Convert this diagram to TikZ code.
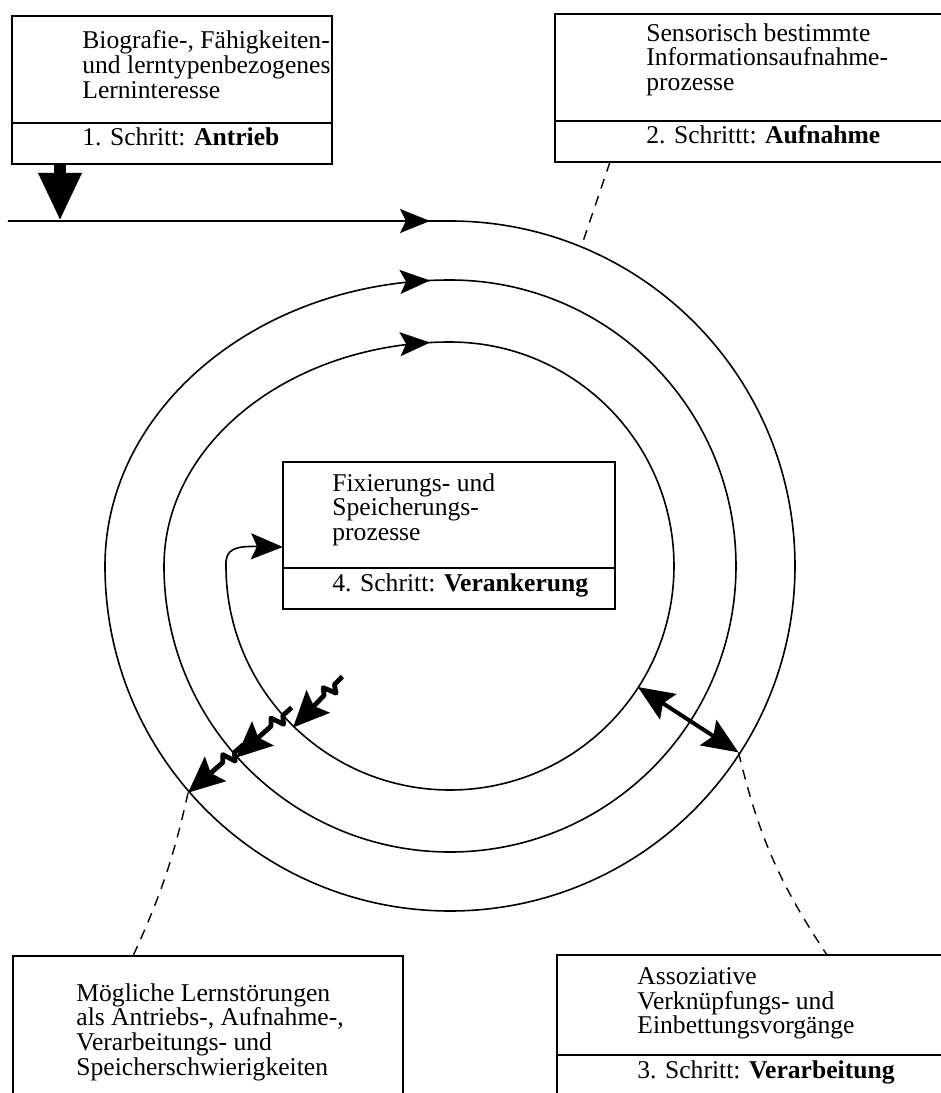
\documentclass[tikz,border=0pt]{standalone}
\usepackage{fontspec}
\setmainfont{Liberation Serif}
\usetikzlibrary{arrows.meta, calc, decorations.markings}
\tikzset{
  kasten/.style={
    draw,
    line width=1pt,
    anchor=north west,
    inner sep=0pt,
    outer sep=0pt,
  },
  kastentext/.style={
    font=\fontsize{12.8}{12.4}\selectfont,
    align=left,
    anchor=north west,
    inner sep=0pt,
  },
  spirale/.style={line width=0.8pt, line join=round},
  strich/.style={line width=0.7pt, dash pattern=on 5pt off 4pt},
  antrieb/.style={-{Triangle[length=24pt, width=20pt]}, line width=6pt},
  doppelpfeil/.style={{Stealth[length=18pt, width=15pt, inset=3pt]}-{Stealth[length=18pt, width=15pt, inset=3pt]}, line width=2pt},
  blitz/.style={
    -{Stealth[length=18pt, width=16pt, inset=3pt]},
    line width=2.4pt,
    line join=round,
  },
}
% box with description (top) and step label (bottom part)
\newcommand{\stufe}[7][]{%
  \node[kasten, #1,
    label={[kastentext, xshift=#4, yshift=#5]north west:{#6}},
    label={[kastentext, anchor=base west, xshift=#4, yshift=-11.5pt]south west:{#7}}] (#2) at #3 {};
  \draw[line width=1pt] (#2.south west) rectangle ([yshift=-20.5pt]#2.south east)%
}
\newcommand{\spitze}{\arrow{Stealth[length=15pt, width=12pt, inset=3pt]}}

\begin{document}
\begin{tikzpicture}[x=0.5pt, y=0.5pt]
\useasboundingbox (-450,-528) rectangle (491,565);

% Boxes: steps 1--4 and learning difficulties
\stufe[minimum width=160pt, minimum height=53.5pt]{b1}{(-438,549)}{35pt}{-7pt}
  {Biografie-, Fähigkeiten-\\und lerntypenbezogenes\\Lerninteresse}{1. Schritt: \textbf{Antrieb}};
\stufe[minimum width=210pt, minimum height=53.5pt]{b2}{(105,551)}{45.5pt}{-4.5pt}
  {Sensorisch bestimmte\\Informationsaufnahme-\\prozesse}{2. Schrittt: \textbf{Aufnahme}};
\stufe[minimum width=210pt, minimum height=50pt]{b3}{(107,-390)}{40pt}{-6pt}
  {Assoziative\\Verknüpfungs- und\\Einbettungsvorgänge}{3. Schritt: \textbf{Verarbeitung}};
\stufe[minimum width=166pt, minimum height=53pt]{b4}{(-167,103)}{24.5pt}{-5.5pt}
  {Fixierungs- und\\Speicherungs-\\prozesse}{4. Schritt: \textbf{Verankerung}};
\stufe[minimum width=195pt, minimum height=75pt]{b5}{(-437,-391)}{31.5pt}{-13.5pt}
  {Mögliche Lernstörungen\\als Antriebs-, Aufnahme-,\\Verarbeitungs- und\\Speicherschwierigkeiten}{};

% Spiral: outer loop -> inner loop -> step 4
\coordinate (einstieg) at (-442,344);
\draw[spirale, postaction={decorate}, decoration={markings,
    mark=at position 211pt with {\spitze},
    mark=at position -10pt with {\spitze}}]
  (einstieg) -- (0,344)
  arc[start angle=90, end angle=-180, radius=345]
  arc[start angle=180, end angle=90, x radius=345, y radius=286]
  coordinate (runde2);
\draw[spirale, postaction={decorate}, decoration={markings,
    mark=at position -10pt with {\spitze}}]
  (runde2) arc[start angle=90, end angle=-180, radius=286]
  arc[start angle=180, end angle=90, x radius=286, y radius=224]
  coordinate (runde3);
\draw[spirale, -{Stealth[length=16pt, width=13pt, inset=3pt]}]
  (runde3) arc[start angle=90, end angle=-180, radius=224]
  .. controls (-225,16) and (-215,19) .. ([yshift=10.5pt]b4.south west);

% Drive arrow from step 1
\coordinate (antriebsfuss) at ([xshift=24pt, yshift=-20.5pt]b1.south west);
\draw[antrieb] (antriebsfuss) -- (antriebsfuss |- einstieg);

% Lightning arrows (disturbances), each with a small kink
\foreach \w/\von/\nach [count=\i] in {226/155/226, 222/213/288, 221/274/347}
{
  \coordinate (blitz\i-a) at (\w:\von);
  \coordinate (blitz\i-b) at (\w:\nach);
  \draw[blitz] (blitz\i-a) -- ($(blitz\i-a)!0.16!(blitz\i-b)$)
    -- ($(blitz\i-a)!0.23!(blitz\i-b)!3.5pt!90:(blitz\i-b)$)
    -- ($(blitz\i-a)!0.30!(blitz\i-b)!3pt!-90:(blitz\i-b)$)
    -- ($(blitz\i-a)!0.37!(blitz\i-b)$) -- (blitz\i-b);
}

% Link between loops (step 3)
\coordinate (innen) at (-33:224);
\coordinate (aussen) at (-33:344);
\draw[doppelpfeil] (innen) -- (aussen);

% Dashed links to the boxes
\coordinate (aufnahme) at (67.6:345);
\draw[strich] ([xshift=27.5pt, yshift=-20.5pt]b2.south west) -- (aufnahme);
\draw[strich] (aussen) to[bend right=10] ([xshift=135pt]b3.north west);
\draw[strich] (blitz3-b) to[bend left=6] ([xshift=60pt]b5.north west);

\end{tikzpicture}
\end{document}
